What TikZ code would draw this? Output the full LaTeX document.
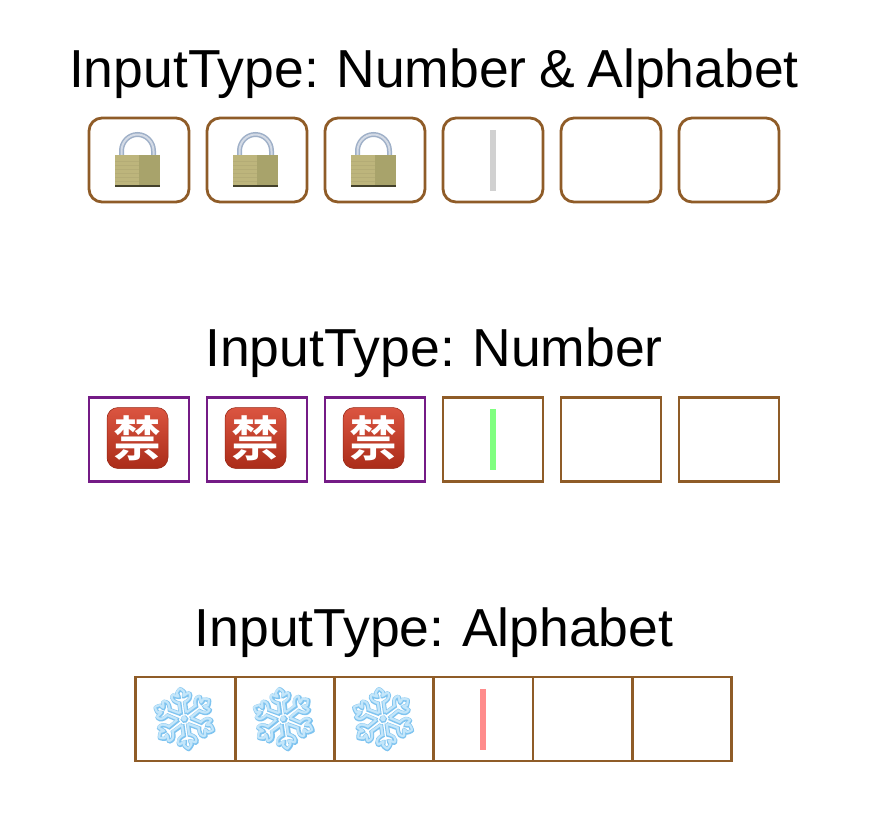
\documentclass[tikz,border=0pt]{standalone}
\usepackage{fontspec}
\setmainfont[WordSpace=0.85]{Liberation Sans}
\newfontfamily\cjkfont[BoldFont={Noto Sans CJK SC Bold}]{Noto Sans CJK SC}
\newfontfamily\emojifont{Noto Emoji}
\newfontfamily\emojifat[FakeBold=3]{Noto Emoji}
\usetikzlibrary{positioning}
\definecolor{boxbrown}{HTML}{8F5C28}
\definecolor{boxpurple}{HTML}{741B86}
\definecolor{lockgold}{HTML}{BDB57C}
\definecolor{lockdark}{HTML}{A8A36B}
\definecolor{lockmetal}{HTML}{9FB0C8}
\definecolor{kinred}{HTML}{D5371F}
\definecolor{flakeblue}{HTML}{7FC4F0}
\definecolor{flakepale}{HTML}{C4E6FA}

\newcommand{\lockicon}[1]{
  \draw[line width=5pt, color=lockmetal] ([xshift=-17.5pt]#1.center) -- ++(0,9pt) arc (180:0:16pt and 16.5pt) -- ++(0,-9pt);
  \draw[line width=2pt, color=white!55!lockmetal] ([xshift=-17.5pt]#1.center) -- ++(0,9pt) arc (180:0:16pt and 16.5pt) -- ++(0,-9pt);
  \fill[lockgold] ([xshift=-24pt,yshift=-27pt]#1.center) rectangle ([xshift=0pt,yshift=5pt]#1.center);
  \fill[lockdark] ([xshift=0pt,yshift=-27pt]#1.center) rectangle ([xshift=21pt,yshift=5pt]#1.center);
  \foreach \y in {-1,-5,...,-21} {\draw[black!5!lockgold, line width=0.5pt] ([xshift=-24pt,yshift=\y pt]#1.center) -- ++(24pt,0);}
  \fill[black!60!lockdark] ([xshift=-24pt,yshift=-27pt]#1.center) rectangle ([xshift=21pt,yshift=-25pt]#1.center);
}

\begin{document}
\begin{tikzpicture}[
    titlelabel/.style={font=\fontsize{53.5pt}{60pt}\selectfont, inner sep=0pt, anchor=base},
    roundbox/.style={draw=boxbrown, line width=2.8pt, rounded corners=13pt, fill=white,
                     minimum width=100pt, minimum height=84pt, outer sep=0pt},
    lockedbox/.style={draw=boxpurple, line width=2.8pt, fill=white,
                     minimum width=100pt, minimum height=84pt, outer sep=0pt},
    plainbox/.style={draw=boxbrown, line width=2.8pt, fill=white,
                     minimum width=100pt, minimum height=84pt, outer sep=0pt},
    cellbox/.style={draw=boxbrown, line width=2.8pt, fill=white,
                     minimum width=99.3pt, minimum height=84pt, outer sep=0pt},
    cursorbar/.style={minimum width=6pt, minimum height=61pt, inner sep=0pt, outer sep=0pt},
    kinicon/.style={top color=kinred!85!white, bottom color=kinred!80!black, draw=kinred!70!black,
                    line width=0.5pt, rounded corners=11pt, minimum size=61pt, inner sep=0pt,
                    text=white, xshift=-1.5pt, yshift=1.5pt,
                    font=\cjkfont\bfseries\fontsize{48pt}{48pt}\selectfont},
    flakeicon/.style={text=flakeblue, inner sep=0pt, rotate=8, xshift=-1pt,
                      font=\emojifat\fontsize{62pt}{62pt}\selectfont},
    flaketop/.style={text=flakepale, inner sep=0pt, rotate=8,
                     font=\emojifont\fontsize{62pt}{62pt}\selectfont}]
\useasboundingbox (0pt,0pt) rectangle (874pt,-812pt);

% first row
\node[titlelabel] (titleA) at (434pt,-87pt) {InputType: Number \& Alphabet};
\node[roundbox] (lockA) at (139pt,-160pt) {};
\node[roundbox, right=18pt of lockA] (lockB) {};
\node[roundbox, right=18pt of lockB] (lockC) {};
\node[roundbox, right=18pt of lockC] (lockD) {};
\node[roundbox, right=18pt of lockD] (lockE) {};
\node[roundbox, right=18pt of lockE] (lockF) {};
\node[cursorbar, fill=black!18] (cursorA) at (lockD) {};
\foreach \n in {lockA,lockB,lockC} {\lockicon{\n}}

% second row
\node[titlelabel] (titleB) at (434pt,-366pt) {InputType: Number};
\node[lockedbox] (kinA) at (139pt,-439.5pt) {};
\node[lockedbox, right=18pt of kinA] (kinB) {};
\node[lockedbox, right=18pt of kinB] (kinC) {};
\node[plainbox, right=18pt of kinC] (kinD) {};
\node[plainbox, right=18pt of kinD] (kinE) {};
\node[plainbox, right=18pt of kinE] (kinF) {};
\node[cursorbar, fill=green!50!white] (cursorB) at (kinD) {};
\foreach \n in {kinA,kinB,kinC} {\node[kinicon] (icon\n) at (\n) {禁};}

% third row
\node[titlelabel] (titleC) at (434pt,-646pt) {InputType: Alphabet};
\node[cellbox] (flakeA) at (185.5pt,-719pt) {};
\node[cellbox, right=0pt of flakeA] (flakeB) {};
\node[cellbox, right=0pt of flakeB] (flakeC) {};
\node[cellbox, right=0pt of flakeC] (flakeD) {};
\node[cellbox, right=0pt of flakeD] (flakeE) {};
\node[cellbox, right=0pt of flakeE] (flakeF) {};
\node[cursorbar, fill=red!45!white] (cursorC) at (flakeD) {};
\foreach \n in {flakeA,flakeB,flakeC} {
  \node[flakeicon] (icon\n) at (\n) {❄};
  \node[flaketop] (pale\n) at (icon\n) {❄};
}
\end{tikzpicture}
\end{document}
